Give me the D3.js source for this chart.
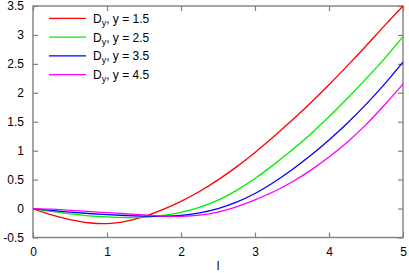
<!DOCTYPE html>
<html><head><meta charset="utf-8">
<script src="https://cdn.jsdelivr.net/npm/d3@7"></script>
<style>
body{margin:0;background:#fff;}
svg text{font-family:"Liberation Sans",Arial,Helvetica,sans-serif;}
</style></head>
<body><svg id="c" width="409" height="273"></svg>
<script>
const xs = [0,0.25,0.5,0.75,1,1.25,1.5,1.75,2,2.25,2.5,2.75,3,3.25,3.5,3.75,4,4.25,4.5,4.75,5];
const yRed     = [0,-0.11,-0.19,-0.245,-0.26,-0.22,-0.14,-0.02,0.125,0.295,0.495,0.72,0.97,1.24,1.525,1.825,2.14,2.47,2.81,3.16,3.5];
const yGreen   = [0,-0.05,-0.09,-0.125,-0.145,-0.155,-0.15,-0.12,-0.065,0.02,0.145,0.315,0.52,0.755,1.01,1.285,1.585,1.905,2.24,2.59,2.97];
const yBlue    = [0,-0.03,-0.06,-0.085,-0.105,-0.12,-0.13,-0.135,-0.12,-0.075,0.0,0.11,0.26,0.45,0.67,0.915,1.185,1.48,1.8,2.15,2.53];
const yMagenta = [0,-0.01,-0.03,-0.05,-0.07,-0.09,-0.11,-0.13,-0.135,-0.115,-0.06,0.03,0.15,0.29,0.46,0.66,0.89,1.15,1.45,1.79,2.15];
const seriesNames = ["y = 1.5","y = 2.5","y = 3.5","y = 4.5"];
const seriesColors = ["#ff0000","#00ee00","#0000ff","#ff00ff"];
const xTicks = [0,1,2,3,4,5];
const yTicks = [-0.5,0,0.5,1,1.5,2,2.5,3,3.5];
const xLabel = "l";

const series = [yRed,yGreen,yBlue,yMagenta];
const svg = d3.select("#c");
const L=33, R=403, T=6, B=237.5;
const x = d3.scaleLinear().domain([0,5]).range([L,R]);
const y = d3.scaleLinear().domain([-0.5,3.5]).range([B,T]);
const axisCol = "#808080";

// frame
svg.append("rect").attr("x",L).attr("y",T).attr("width",R-L).attr("height",B-T)
  .attr("fill","none").attr("stroke",axisCol).attr("stroke-width",1.4);

const tl = 5;
const gx = svg.append("g").attr("transform",`translate(0,${B})`)
  .call(d3.axisBottom(x).tickValues(xTicks).tickFormat(d3.format("d")).tickSizeInner(-tl).tickSizeOuter(0).tickPadding(10));
const gxt = svg.append("g").attr("transform",`translate(0,${T})`)
  .call(d3.axisTop(x).tickValues(xTicks).tickFormat("").tickSizeInner(-tl).tickSizeOuter(0));
const gy = svg.append("g").attr("transform",`translate(${L},0)`)
  .call(d3.axisLeft(y).tickValues(yTicks).tickFormat(d=>String(d)).tickSizeInner(-tl).tickSizeOuter(0).tickPadding(9));
const gyr = svg.append("g").attr("transform",`translate(${R},0)`)
  .call(d3.axisRight(y).tickValues(yTicks).tickFormat("").tickSizeInner(-tl).tickSizeOuter(0));
[gx,gxt,gy,gyr].forEach(g=>{
  g.select(".domain").remove();
  g.selectAll(".tick line").attr("stroke",axisCol).attr("stroke-width",1.2);
  g.selectAll("text").attr("fill","#000").style("font-size","12px").style("font-family","'Liberation Sans',Arial,sans-serif");
});

svg.append("text").attr("x",(L+R)/2).attr("y",270).attr("text-anchor","middle")
  .style("font-size","12px").text(xLabel);

const line = d3.line().x((d,i)=>x(xs[i])).y(d=>y(d)).curve(d3.curveCatmullRom.alpha(0.5));
series.forEach((s,k)=>{
  svg.append("path").datum(s).attr("d",line).attr("fill","none")
    .attr("stroke",seriesColors[k]).attr("stroke-width",1.3);
});

// legend
const lg = svg.append("g");
seriesNames.forEach((n,k)=>{
  const yy = 18.3 + k*18.8;
  lg.append("line").attr("x1",49).attr("x2",86).attr("y1",yy).attr("y2",yy)
    .attr("stroke",seriesColors[k]).attr("stroke-width",1.3);
  const t = lg.append("text").attr("x",93).attr("y",yy+4.5).style("font-size","12px");
  t.append("tspan").text("D");
  t.append("tspan").attr("dy",3).style("font-size","9px").text("y");
  t.append("tspan").attr("dy",-3).text(", " + n);
});
</script></body></html>
